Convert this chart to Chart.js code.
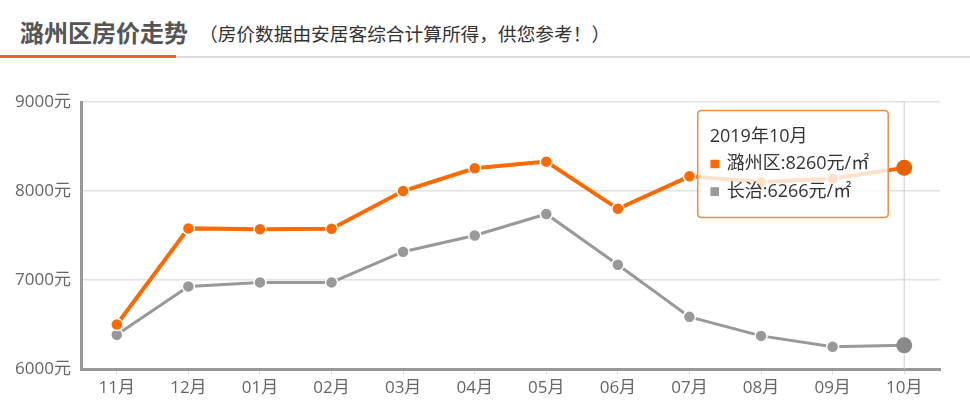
<!DOCTYPE html>
<html>
<head>
<meta charset="utf-8">
<script src="https://cdn.jsdelivr.net/npm/chart.js@4"></script>
<style>
  html, body { margin: 0; padding: 0; background: #fff; }
  body { width: 970px; height: 419px; overflow: hidden; position: relative; font-family: "Open Sans", "Noto Sans CJK SC", sans-serif; }
  .head { position: absolute; left: 0; top: 0; width: 970px; height: 58px; }
  .head h2 { position: absolute; left: 20px; top: 15px; margin: 0; font-size: 24px; line-height: 34px; font-weight: bold; color: #555; font-family: "Noto Sans CJK SC", sans-serif; }
  .head span { position: absolute; left: 199px; top: 20px; font-size: 18.7px; line-height: 26px; color: #333; font-family: "Noto Sans CJK SC", sans-serif; }
  .line-grey { position: absolute; left: 0; top: 56px; width: 970px; height: 2px; background: #ddd; }
  .line-org { position: absolute; left: 0; top: 55px; width: 176px; height: 3px; background: #f4622b; }
  .box { position: absolute; left: 0; top: 70px; width: 970px; height: 349px; }
</style>
</head>
<body>
<div class="head">
  <h2>潞州区房价走势</h2>
  <span>（房价数据由安居客综合计算所得，供您参考！）</span>
  <div class="line-grey"></div>
  <div class="line-org"></div>
</div>
<div class="box"><canvas id="myChart" width="970" height="349"></canvas></div>
<script>
const months = ['11月', '12月', '01月', '02月', '03月', '04月', '05月', '06月', '07月', '08月', '09月', '10月'];
const luzhou = [6500, 7580, 7570, 7575, 8000, 8255, 8330, 7800, 8165, 8100, 8140, 8260];
const changzhi = [6385, 6928, 6973, 6973, 7318, 7500, 7742, 7172, 6586, 6372, 6250, 6266];
const yTicks = [6000, 7000, 8000, 9000];
const tipTitle = '2019年10月';

Chart.Tooltip.positioners.fixedTop = function(items) {
  if (!items.length) return false;
  return { x: items[0].element.x, y: 94 };
};

// vertical line at the hovered month
const hoverLine = {
  id: 'hoverLine',
  beforeDatasetsDraw(chart) {
    const act = chart.getActiveElements();
    if (!act.length) return;
    const x = chart.scales.x.getPixelForValue(act[0].index);
    const ctx = chart.ctx;
    ctx.save();
    ctx.strokeStyle = '#ccc';
    ctx.lineWidth = 1;
    ctx.beginPath();
    ctx.moveTo(x, chart.chartArea.top);
    ctx.lineTo(x, chart.chartArea.bottom);
    ctx.stroke();
    ctx.restore();
  }
};

const ctx = document.getElementById('myChart');
const chart = new Chart(ctx, {
  type: 'line',
  data: {
    labels: months,
    datasets: [{
      label: '潞州区',
      data: luzhou,
      borderColor: '#ff6a00',
      backgroundColor: '#ff6a00',
      borderWidth: 4,
      pointRadius: 6,
      pointBorderColor: '#fff',
      pointBorderWidth: 1.5,
      pointHoverRadius: 8,
      pointHoverBorderWidth: 0,
      tension: 0
    }, {
      label: '长治',
      data: changzhi,
      borderColor: '#999',
      backgroundColor: '#999',
      borderWidth: 3,
      pointRadius: 6,
      pointBorderColor: '#fff',
      pointBorderWidth: 1.5,
      pointHoverRadius: 8,
      pointHoverBorderWidth: 0,
      tension: 0
    }]
  },
  options: {
    responsive: false,
    animation: false,
    events: [],
    layout: { padding: { top: 32, right: 30, bottom: 0, left: 0 } },
    scales: {
      x: {
        offset: true,
        border: { color: '#999', width: 3 },
        grid: { offset: false, drawOnChartArea: false, drawTicks: true, tickLength: 6, tickColor: '#ddd' },
        ticks: { color: '#666', padding: 3, font: { size: 17, family: '"Open Sans", "Noto Sans CJK SC"' } },
        afterFit(s) { s.height = 50; }
      },
      y: {
        min: 6000,
        max: 9000,
        afterBuildTicks(s) { s.ticks = yTicks.map(v => ({ value: v })); },
        border: { color: '#999', width: 3 },
        grid: { color: '#e2e2e2', lineWidth: 1.5, drawTicks: false },
        ticks: { color: '#666', padding: 10, font: { size: 17, family: '"Open Sans", "Noto Sans CJK SC"' }, callback: v => v + '元' },
        afterFit(s) { s.width = 81; }
      }
    },
    plugins: {
      legend: { display: false },
      title: { display: false },
      tooltip: {
        enabled: true,
        position: 'fixedTop',
        xAlign: 'right',
        yAlign: 'center',
        caretSize: 0,
        caretPadding: 16,
        backgroundColor: 'rgba(255,255,255,0.8)',
        borderColor: '#f08a3c',
        borderWidth: 1.5,
        cornerRadius: 4,
        titleColor: '#333',
        bodyColor: '#333',
        titleFont: { size: 18, weight: 'normal', family: '"Open Sans", "Noto Sans CJK SC"' },
        bodyFont: { size: 18, family: '"Open Sans", "Noto Sans CJK SC"' },
        titleMarginBottom: 6,
        bodySpacing: 6,
        padding: { top: 15, bottom: 15, left: 12, right: 19 },
        usePointStyle: true,
        boxWidth: 10,
        boxHeight: 10,
        boxPadding: 5,
        displayColors: true,
        callbacks: {
          title: () => tipTitle,
          label: c => c.dataset.label + ':' + c.parsed.y + '元/㎡',
          labelColor: c => ({ borderColor: c.dataset.borderColor, backgroundColor: c.dataset.borderColor, borderWidth: 0 }),
          labelPointStyle: () => ({ pointStyle: 'rect', rotation: 0 })
        }
      }
    }
  },
  plugins: [hoverLine]
});

const act = [{ datasetIndex: 0, index: 11 }, { datasetIndex: 1, index: 11 }];
chart.setActiveElements(act);
chart.tooltip.setActiveElements(act, { x: 0, y: 0 });
chart.update();
</script>
</body>
</html>
